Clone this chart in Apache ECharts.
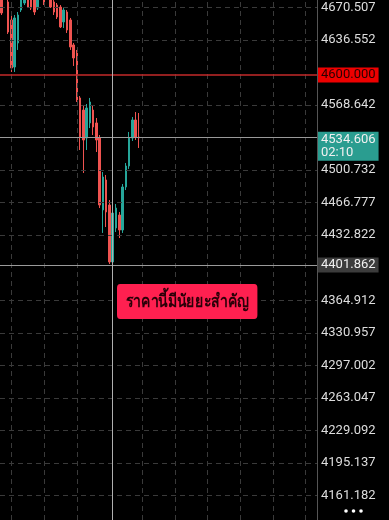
<!DOCTYPE html>
<html><head><meta charset="utf-8">
<script src="https://cdn.jsdelivr.net/npm/echarts@6/dist/echarts.min.js"></script>
<style>html,body{margin:0;padding:0;background:#000;}#c{width:389px;height:520px;}</style>
</head><body><div id="c"></div>
<script>
// [open, close, low, high]
const candles = [
  [4688.8, 4664.8, 4662.7, 4694.0],
  [4683.6, 4692.0, 4680.4, 4696.0],
  [4676.3, 4644.9, 4642.9, 4682.5],
  [4657.5, 4607.4, 4603.2, 4662.7],
  [4608.4, 4659.6, 4603.2, 4662.7],
  [4633.5, 4662.7, 4626.2, 4665.8],
  [4667.9, 4683.6, 4665.8, 4686.7],
  [4675.2, 4686.7, 4673.1, 4690.9],
  [4684.6, 4671.0, 4670.0, 4688.8],
  [4682.5, 4670.0, 4667.9, 4686.7],
  [4680.4, 4665.8, 4662.7, 4684.6],
  [4670.0, 4684.6, 4667.9, 4688.8],
  [4683.6, 4692.0, 4681.5, 4695.0],
  [4686.7, 4675.2, 4673.1, 4690.9],
  [4695.0, 4686.7, 4684.6, 4698.0],
  [4684.6, 4671.0, 4670.0, 4688.8],
  [4676.3, 4665.8, 4662.7, 4678.3],
  [4673.1, 4660.6, 4658.5, 4675.2],
  [4671.0, 4650.2, 4649.1, 4673.1],
  [4655.4, 4667.9, 4649.1, 4670.0],
  [4665.8, 4647.0, 4643.9, 4667.9],
  [4657.5, 4629.3, 4626.2, 4659.6],
  [4631.4, 4617.8, 4609.5, 4633.5],
  [4623.0, 4574.0, 4571.9, 4626.2],
  [4576.1, 4535.3, 4521.8, 4578.1],
  [4563.5, 4532.2, 4497.8, 4567.7],
  [4534.3, 4565.6, 4521.8, 4569.8],
  [4550.0, 4571.9, 4544.7, 4576.1],
  [4563.5, 4545.8, 4537.4, 4567.7],
  [4550.0, 4532.2, 4519.7, 4555.2],
  [4534.3, 4464.4, 4461.2, 4537.4],
  [4459.2, 4493.6, 4435.2, 4498.8],
  [4490.5, 4457.1, 4441.4, 4495.7],
  [4464.4, 4404.9, 4402.8, 4469.6],
  [4404.9, 4456.0, 4401.862, 4459.2],
  [4440.4, 4461.2, 4436.2, 4465.4],
  [4453.9, 4438.3, 4429.9, 4457.1],
  [4438.3, 4483.2, 4435.2, 4486.3],
  [4483.2, 4505.1, 4480.0, 4508.2],
  [4505.1, 4534.3, 4502.0, 4540.6],
  [4534.3, 4553.1, 4531.2, 4556.2],
  [4553.1, 4535.3, 4532.2, 4561.4],
  [4535.3, 4534.606, 4523.9, 4560.4]
];
const futureSlots = 54;
const yLabelTicks = [4670.507, 4636.552, 4568.642, 4500.732, 4466.777, 4432.822,
  4364.912, 4330.957, 4297.002, 4263.047, 4229.092, 4195.137, 4161.182];
const gridColumns = [3, 13, 23, 43, 53, 63, 73, 83, 93];
const yMin = 4135.62, yMax = 4678.34;
const levelPrice = 4600.000;
const lastPrice = 4534.606;
const lastTimer = '02:10';
const crossPrice = 4401.862;
const crossIndex = 34;
const annotation = 'ราคานี้มีนัยยะสำคัญ';

const categories = [];
for (let i = 0; i < candles.length + futureSlots; i++) categories.push('k' + i);
const seriesData = candles.slice();
for (let i = 0; i < futureSlots; i++) seriesData.push('-');

const chart = echarts.init(document.getElementById('c'), null, {renderer: 'canvas'});
function lineSeries(z, color, type, data, width) {
  return {
    type: 'line', data: [], z: z, silent: true, color: color,
    markLine: {
      silent: true, symbol: ['none', 'none'], label: {show: false}, animation: false,
      lineStyle: {color: color, width: width || 1, type: type, opacity: 1},
      emphasis: {disabled: true},
      data: data
    }
  };
}
const option = {
  backgroundColor: '#000',
  animation: false,
  grid: {left: 0, right: 72, top: 0, bottom: 0},
  xAxis: {
    type: 'category', data: categories, boundaryGap: true,
    axisLine: {show: false}, axisTick: {show: false}, axisLabel: {show: false}, splitLine: {show: false}
  },
  yAxis: {
    type: 'value', position: 'right', min: yMin, max: yMax,
    axisLine: {show: true, lineStyle: {color: '#555', width: 1}},
    axisTick: {show: false},
    axisLabel: {customValues: yLabelTicks, color: '#dddddd', fontSize: 13, fontFamily: 'Roboto', margin: 4,
      formatter: v => Number(v).toFixed(3)},
    splitLine: {show: false}
  },
  series: [
    lineSeries(1, '#3a3a3a', [5, 4], yLabelTicks.map(v => ({yAxis: v})).concat(gridColumns.map(c => ({xAxis: c})))),
    {
      type: 'candlestick', data: seriesData, z: 2, barWidth: 2,
      itemStyle: {color: '#26a69a', color0: '#ef5350', borderColor: '#26a69a', borderColor0: '#ef5350', borderWidth: 1}
    },
    lineSeries(3, '#c42a2a', 'solid', [{yAxis: levelPrice}], 1.5),
    lineSeries(3, '#9a9a9a', 'solid', [{yAxis: lastPrice}, {yAxis: crossPrice}]),
    lineSeries(3, '#b0b0b0', 'solid', [{xAxis: crossIndex}])
  ]
};
chart.setOption(option);

const yLevel = chart.convertToPixel({yAxisIndex: 0}, levelPrice);
const yLast = chart.convertToPixel({yAxisIndex: 0}, lastPrice);
const yCross = chart.convertToPixel({yAxisIndex: 0}, crossPrice);
const lblFont = '13px Roboto';
chart.setOption({
  graphic: [
    {type: 'text', x: 318, y: yLevel, z: 100, style: {text: levelPrice.toFixed(3), font: lblFont, fill: '#2a0000',
      backgroundColor: '#ee0000', padding: [1, 3, 1, 3], lineHeight: 13, verticalAlign: 'middle'}},
    {type: 'text', x: 318, y: yLast - 6, z: 100, style: {text: lastPrice.toFixed(3) + '\n' + lastTimer, font: lblFont, fill: '#f0f0f0',
      backgroundColor: '#2a9d90', padding: [1, 3, 1, 3], lineHeight: 13.5, verticalAlign: 'top'}},
    {type: 'text', x: 318, y: yCross, z: 100, style: {text: crossPrice.toFixed(3), font: lblFont, fill: '#f0f0f0',
      backgroundColor: '#3c3c3c', padding: [1, 3, 1, 3], lineHeight: 13, verticalAlign: 'middle'}},
    {type: 'text', x: 117, y: 284, z: 100, scaleX: 0.78, style: {text: annotation, font: 'bold 18px sans-serif', fill: '#2a0008',
      backgroundColor: '#ff2050', padding: [9, 11, 8, 11], borderRadius: 4, verticalAlign: 'top'}},
    {type: 'circle', z: 100, shape: {cx: 346, cy: 511, r: 1.8}, style: {fill: '#ffffff'}},
    {type: 'circle', z: 100, shape: {cx: 353.5, cy: 511, r: 1.8}, style: {fill: '#ffffff'}},
    {type: 'circle', z: 100, shape: {cx: 361, cy: 511, r: 1.8}, style: {fill: '#ffffff'}}
  ]
});
</script>
</body></html>
